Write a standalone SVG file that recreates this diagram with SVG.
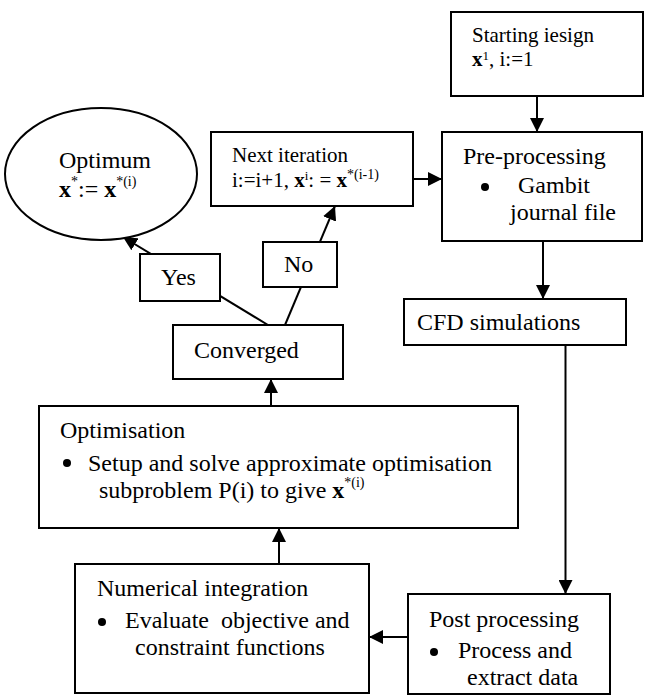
<svg xmlns="http://www.w3.org/2000/svg" width="654" height="698" viewBox="0 0 654 698">
  <style>
    .box { fill: #fff; stroke: #000; stroke-width: 2; }
    .t { font-family: "Liberation Serif", "Times New Roman", serif; font-size: 24px; fill: #000; }
    .ts { font-family: "Liberation Serif", "Times New Roman", serif; font-size: 21px; fill: #000; }
    .b { font-weight: bold; }
    .sup { font-size: 14px; }
    .sup-s { font-size: 13px; }
    .link { fill: none; stroke: #000; stroke-width: 2; marker-end: url(#arrow); }
  </style>
  <defs>
    <marker id="arrow" viewBox="0 0 14 14" refX="14" refY="7" markerWidth="14" markerHeight="14" markerUnits="userSpaceOnUse" orient="auto">
      <path d="M0,0 L14,7 L0,14 Z" fill="#000"/>
    </marker>
  </defs>
  <rect width="654" height="698" fill="#fff"/>

  <g id="connectors">
    <line class="link" x1="537" y1="96" x2="537" y2="132"/>
    <line class="link" x1="413" y1="179" x2="442" y2="179"/>
    <line class="link" x1="543" y1="241" x2="543" y2="299"/>
    <line class="link" x1="565.5" y1="345" x2="565.5" y2="594"/>
    <line class="link" x1="408" y1="637" x2="369" y2="637"/>
    <line class="link" x1="279" y1="564" x2="279" y2="528"/>
    <line class="link" x1="271" y1="406" x2="271" y2="379"/>
    <line class="link" x1="268" y1="325" x2="123" y2="237"/>
    <line class="link" x1="285" y1="325" x2="335" y2="206"/>
  </g>

  <g id="start">
    <rect class="box" x="451" y="12" width="192" height="84"/>
    <text class="ts" x="472" y="42">Starting iesign</text>
    <text class="ts" x="472" y="66"><tspan class="b">x</tspan><tspan class="sup-s" dy="-6">1</tspan><tspan dy="6">, i:=1</tspan></text>
  </g>

  <g id="preprocessing">
    <rect class="box" x="442" y="132" width="200" height="109"/>
    <text class="t" x="463" y="164">Pre-processing</text>
    <circle cx="485" cy="187" r="4"/>
    <text class="t" x="518" y="193">Gambit</text>
    <text class="t" x="510" y="220">journal file</text>
  </g>

  <g id="next-iteration">
    <rect class="box" x="211" y="132" width="202" height="74"/>
    <text class="ts" x="232" y="162">Next iteration</text>
    <text class="ts" x="232" y="187">i:=i+1, <tspan class="b">x</tspan><tspan class="sup-s" dy="-7">i</tspan><tspan dy="7">: = </tspan><tspan class="b">x</tspan><tspan class="sup" dy="-8">*(i-1)</tspan></text>
  </g>

  <g id="optimum">
    <ellipse class="box" cx="101" cy="174" rx="96" ry="66"/>
    <text class="t" x="59" y="168">Optimum</text>
    <text class="t" x="59" y="197"><tspan class="b">x</tspan><tspan class="sup" dy="-11">*</tspan><tspan dy="11">:= </tspan><tspan class="b">x</tspan><tspan class="sup" dy="-11">*(i)</tspan></text>
  </g>

  <g id="yes">
    <rect class="box" x="140" y="254" width="80" height="47"/>
    <text class="t" x="161" y="285">Yes</text>
  </g>

  <g id="no">
    <rect class="box" x="263" y="242" width="74" height="45"/>
    <text class="t" x="284" y="272">No</text>
  </g>

  <g id="converged">
    <rect class="box" x="173" y="325" width="170" height="54"/>
    <text class="t" x="194" y="358">Converged</text>
  </g>

  <g id="cfd">
    <rect class="box" x="404" y="299" width="222" height="46"/>
    <text class="t" x="417" y="330">CFD simulations</text>
  </g>

  <g id="optimisation">
    <rect class="box" x="39" y="406" width="479" height="122"/>
    <text class="t" x="60" y="438">Optimisation</text>
    <circle cx="67" cy="463" r="4"/>
    <text class="t" x="88" y="471">Setup and solve approximate optimisation</text>
    <text class="t" x="99" y="498">subproblem P(i) to give <tspan class="b">x</tspan><tspan class="sup" dy="-11">*(i)</tspan></text>
  </g>

  <g id="numerical-integration">
    <rect class="box" x="75" y="564" width="294" height="129"/>
    <text class="t" x="97" y="596">Numerical integration</text>
    <circle cx="102" cy="622" r="4"/>
    <text class="t" x="125" y="628" xml:space="preserve">Evaluate  objective and</text>
    <text class="t" x="135" y="655">constraint functions</text>
  </g>

  <g id="postprocessing">
    <rect class="box" x="408" y="594" width="202" height="100"/>
    <text class="t" x="429" y="627">Post processing</text>
    <circle cx="434" cy="652" r="4"/>
    <text class="t" x="458" y="658">Process and</text>
    <text class="t" x="467" y="685">extract data</text>
  </g>
</svg>
